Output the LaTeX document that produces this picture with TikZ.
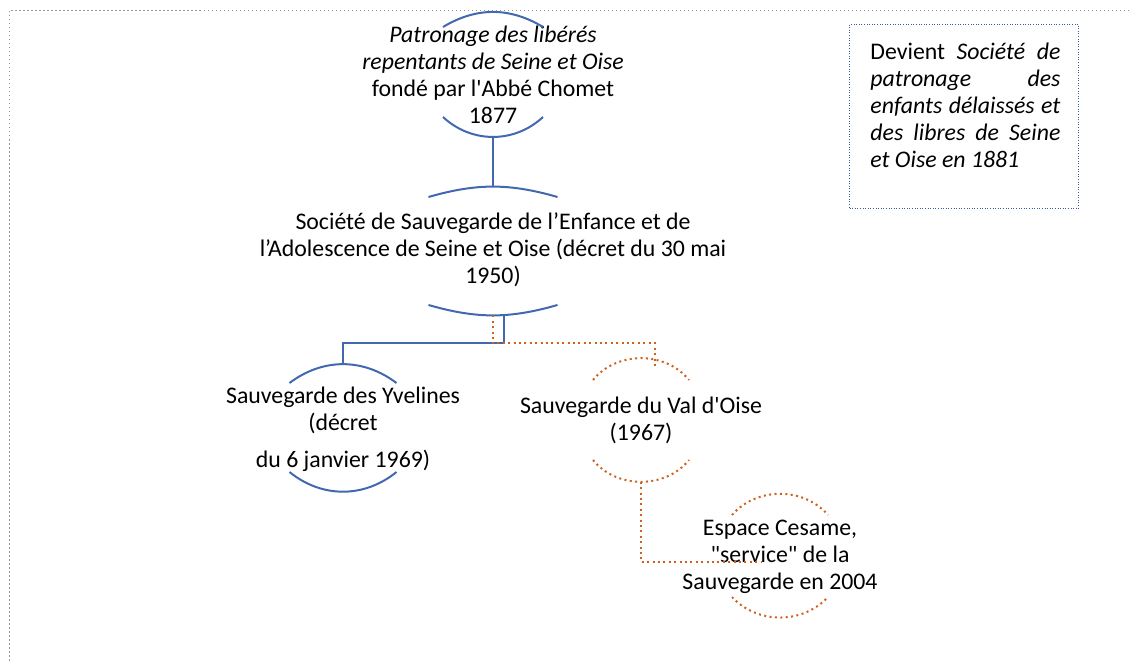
\documentclass[tikz,border=0pt]{standalone}
\usepackage{fontspec}
\setmainfont{Carlito}[Ligatures=TeXOff]

\definecolor{sbblue}{RGB}{66,104,176}
\definecolor{sborange}{RGB}{204,98,30}
\definecolor{notblue}{RGB}{60,90,160}
\definecolor{framegray}{RGB}{150,150,150}

\begin{document}
\begin{tikzpicture}[x=0.5pt,y=-0.5pt,
	ringtxt/.style={align=center,inner sep=0pt,font=\fontsize{11.9}{13.5}\selectfont},
	bluearc/.style={draw=sbblue,line width=1pt},
	orangearc/.style={draw=sborange,line width=1pt,dash pattern=on 1pt off 1.7pt},
	blueline/.style={draw=sbblue,line width=1pt},
	orangeline/.style={draw=sborange,line width=1pt,dash pattern=on 1pt off 1.7pt},
	notebox/.style={draw=notblue,line width=0.5pt,dash pattern=on 0.5pt off 0.8pt,minimum width=114.5pt,minimum height=92pt,inner sep=0pt},
	notetxt/.style={align=justify,text width=95pt,inner sep=0pt,font=\fontsize{11.9}{13.5}\selectfont},
	framedots/.style={draw=framegray,line width=0.5pt,dash pattern=on 0.75pt off 1.25pt}]
			\useasboundingbox (0,0) rectangle (1129,662);
			\draw[framedots] (1129,11) -- (9,11) -- (9,662);
			% organisations
			\node[ringtxt] (p1) at (493,74.5) {\textit{Patronage des libérés}\\ \textit{repentants de Seine et Oise}\\ fondé par l'Abbé Chomet\\ 1877};
			\node[ringtxt] (p2) at (493,249.5) {Société de Sauvegarde de l’Enfance et de\\ l’Adolescence de Seine et Oise (décret du 30 mai\\ 1950)};
			\node[ringtxt] (p3) at (343,429.5) {Sauvegarde des Yvelines\\ (décret\\[5pt] du 6 janvier 1969)};
			\node[ringtxt] (p4) at (641,420) {Sauvegarde du Val d'Oise\\ (1967)};
			\node[ringtxt] (p5) at (780,556.5) {Espace Cesame,\\ "service" de la\\ Sauvegarde en 2004};
			% arcs round the texts
			\draw[bluearc,shift={(p1.center)}] (-50,-47.5) to[bend left=31] coordinate[pos=.5] (p1top) (50,-47.5);
			\draw[bluearc,shift={(p1.center)}] (-50,42.5) to[bend right=43] coordinate[pos=.5] (p1bot) (50,42.5);
			\draw[bluearc,shift={(p2.center)}] (-64.5,-52.5) to[bend left=16] coordinate[pos=.5] (p2top) (64.5,-52.5);
			\draw[bluearc,shift={(p2.center)}] (-64.5,55.5) to[bend right=16] coordinate[pos=.5] (p2bot) (64.5,55.5);
			\draw[bluearc,shift={(p3.center)}] (-53.5,-46.5) to[bend left=37] coordinate[pos=.5] (p3top) (53.5,-46.5);
			\draw[bluearc,shift={(p3.center)}] (-53.5,42.5) to[bend right=39] coordinate[pos=.5] (p3bot) (53.5,42.5);
			\draw[orangearc,shift={(p4.center)}] (-48,-40) to[bend left=51] coordinate[pos=.5] (p4top) (48,-40);
			\draw[orangearc,shift={(p4.center)}] (-48,40) to[bend right=51] coordinate[pos=.5] (p4bot) (48,40);
			\draw[orangearc,shift={(p5.center)}] (-48,-41.5) to[bend left=49] coordinate[pos=.5] (p5top) (48,-41.5);
			\draw[orangearc,shift={(p5.center)}] (-48,40.5) to[bend right=47] coordinate[pos=.5] (p5bot) (48,40.5);
			% links
			\draw[blueline] (p1bot) -- (p2top);
			\draw[blueline] ([xshift=5.5pt]p2bot) -- ++(0,28) -| (p3top);
			\draw[orangeline] (p2bot) -- ++(0,28) -| ([xshift=7pt,yshift=-5pt]p4top);
			\draw[orangeline] (p4bot) |- ([xshift=-9pt,yshift=-2.75pt]p5.center);
			% note
			\node[notebox,anchor=north west] (nb) at (849,24) {};
			\node[notetxt,anchor=north west] (nt) at ([xshift=10.5pt,yshift=-9.5pt]nb.north west) {Devient {\itshape Société de\linebreak patronage des\linebreak enfants délaissés et\linebreak des libres de Seine\linebreak et Oise en 1881}};
		\end{tikzpicture}
\end{document}
